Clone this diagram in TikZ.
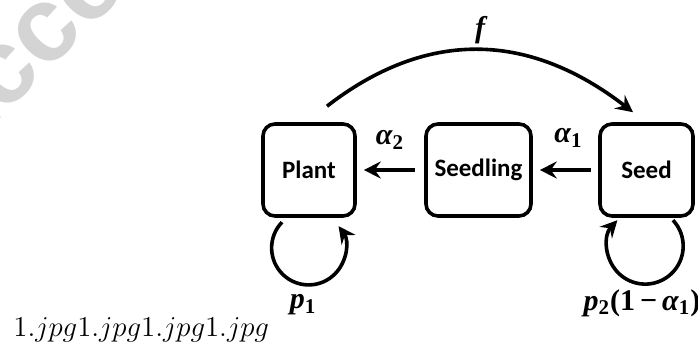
\documentclass[tikz,border=0pt]{standalone}
\usepackage{fontspec}
\newfontfamily\boxfont{Carlito}
\newfontfamily\ratefont{Liberation Serif}
\newfontfamily\wmfont{Liberation Sans}
\usetikzlibrary{arrows.meta}

\tikzset{
    stage/.style={draw, line width=1.8pt, rounded corners=6pt, minimum height=46pt,
        inner sep=0pt, font=\boxfont\bfseries\fontsize{12.5}{14}\selectfont},
    arr/.style={line width=1.8pt, -{Stealth[length=8.5pt,width=8.5pt,inset=3pt]}},
    rate/.style={inner sep=0pt, font=\ratefont\bfseries\itshape\fontsize{15}{17}\selectfont},
}

\begin{document}
\begin{tikzpicture}[x=0.5pt,y=0.5pt]
        \useasboundingbox (0,0) rectangle (698,344);
        % watermark
        \begin{scope}
            \clip (0,0) rectangle (698,344);
            \node[rotate=45, anchor=base west, inner sep=0pt, text=black!17,
                font=\wmfont\bfseries\fontsize{53}{60}\selectfont] (wm) at (-50.6,174.6) {Accepted Manuscript};
        \end{scope}
        % stages
        \node[stage, minimum width=46pt] (plant) at (309,174) {Plant};
        \node[stage, minimum width=52.5pt] (seedling) at (478.5,174) {Seedling};
        \node[stage, minimum width=46.5pt] (seed) at (646.5,174) {Seed};
        % transitions
        \draw[arr, shorten <=4.5pt, shorten >=3.5pt] (seedling) -- (plant);
        \draw[arr, shorten <=3.5pt, shorten >=3.5pt] (seed) -- (seedling);
        \node[rate] (a2) at (390,204) {α\textsubscript{\upshape 2}};
        \node[rate] (a1) at (568.5,206) {α\textsubscript{\upshape 1}};
        \draw[arr] ([shift={(18,16)}]plant.north) .. controls +(98,76) and +(-106,82) .. ([shift={(-13.5,10)}]seed.north);
        \node[rate] (f) at (480,314) {f};
        % self loops
        \draw[arr] ([shift={(-27,-4.4)}]plant.south) arc[start angle=136, end angle=396, radius=37];
        \draw[arr] ([shift={(26.5,-2.4)}]seed.south) arc[start angle=43, end angle=-223, radius=38];
        \node[rate] (p1) at (303,39) {p\textsubscript{\upshape 1}};
        \node[rate] (p2) at (642,41) {p\textsubscript{\upshape 2}\upshape(1\,−\,\itshape α\textsubscript{\upshape 1}\upshape)};
        % caption leftover
        \node[anchor=base west, inner sep=0pt, font=\fontsize{13.4}{16}\selectfont] (cap) at (13,8) {$1.jpg1.jpg1.jpg1.jpg$};
\end{tikzpicture}
\end{document}
